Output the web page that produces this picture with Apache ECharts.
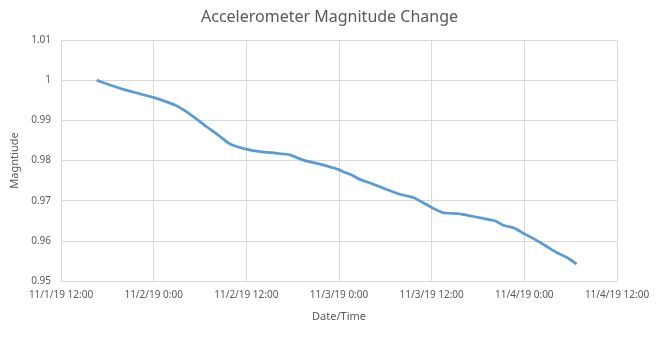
<!DOCTYPE html>
<html>
<head>
<meta charset="utf-8">
<script src="https://cdn.jsdelivr.net/npm/echarts@6/dist/echarts.min.js"></script>
<style>html,body{margin:0;padding:0;background:#fff;}#c{width:659px;height:337px;}</style>
</head>
<body>
<div id="c"></div>
<script>
// Timestamps (day of Nov 2019, hour:minute)
const times = [
  "1 16:37","1 18:21","1 20:04","1 22:14","1 23:57","2 01:41","2 02:59","2 04:16","2 05:34",
  "2 06:52","2 08:22","2 09:53","2 11:49","2 13:46","2 15:55","2 17:38","2 19:22","2 21:32",
  "2 23:54","3 00:33","3 01:38","3 02:42","3 04:26","3 06:10","3 07:53","3 09:37","3 10:54",
  "3 11:59","3 13:29","3 15:26","3 16:31","3 18:40","3 20:11","3 21:16","3 22:46","3 23:51",
  "4 01:08","4 02:39","4 04:10","4 05:28","4 06:46"
];
const magnitude = [
  1.0000,0.9988,0.9977,0.9966,0.9957,0.9946,0.9936,0.9921,0.9903,
  0.9884,0.9863,0.9841,0.9829,0.9822,0.9818,0.9814,0.9801,0.9791,
  0.9778,0.9772,0.9764,0.9753,0.9741,0.9728,0.9716,0.9708,0.9695,
  0.9683,0.9670,0.9668,0.9664,0.9656,0.9650,0.9639,0.9631,0.9619,
  0.9606,0.9589,0.9571,0.9559,0.9542
];
const xTickHours = [12, 24, 36, 48, 60, 72, 84]; // hours since 11/1/19 0:00

function toHours(s) {
  const [d, hm] = s.split(" ");
  const [h, m] = hm.split(":").map(Number);
  return (Number(d) - 1) * 24 + h + m / 60;
}
function fmtX(v) {
  const day = 1 + Math.floor(v / 24);
  const hr = Math.round(v % 24);
  return "11/" + day + "/19 " + hr + ":00";
}
const data = times.map((t, i) => [toHours(t), magnitude[i]]);

const chart = echarts.init(document.getElementById('c'));
const labelFont = { color: '#595959', fontFamily: 'Noto Sans', fontSize: 10 };
chart.setOption({
  animation: false,
  title: {
    text: 'Accelerometer Magnitude Change',
    left: 'center', top: 4,
    textStyle: { color: '#595959', fontFamily: 'Noto Sans', fontSize: 16, fontWeight: 'normal' }
  },
  grid: { left: 61, right: 42, top: 40, bottom: 56 },
  xAxis: {
    type: 'value',
    min: xTickHours[0], max: xTickHours[xTickHours.length - 1], interval: 12,
    name: 'Date/Time', nameLocation: 'middle', nameGap: 30,
    nameTextStyle: { color: '#595959', fontFamily: 'Noto Sans', fontSize: 11 },
    axisLine: { show: true, lineStyle: { color: '#d9d9d9' } },
    axisTick: { show: false },
    axisLabel: Object.assign({ formatter: fmtX, margin: 9 }, labelFont),
    splitLine: { show: true, lineStyle: { color: '#d9d9d9' } }
  },
  yAxis: {
    type: 'value', min: 0.95, max: 1.01, interval: 0.01,
    name: 'Magntiude', nameLocation: 'middle', nameGap: 38,
    nameTextStyle: { color: '#595959', fontFamily: 'Noto Sans', fontSize: 11 },
    axisLine: { show: false }, axisTick: { show: false },
    axisLabel: Object.assign({ formatter: v => String(Number(v.toFixed(2))), margin: 10 }, labelFont),
    splitLine: { show: true, lineStyle: { color: '#d9d9d9' } }
  },
  series: [{
    type: 'line', data: data, showSymbol: false, smooth: 0.2,
    lineStyle: { color: '#5B9BD5', width: 2.75 }
  }]
});
</script>
</body>
</html>
